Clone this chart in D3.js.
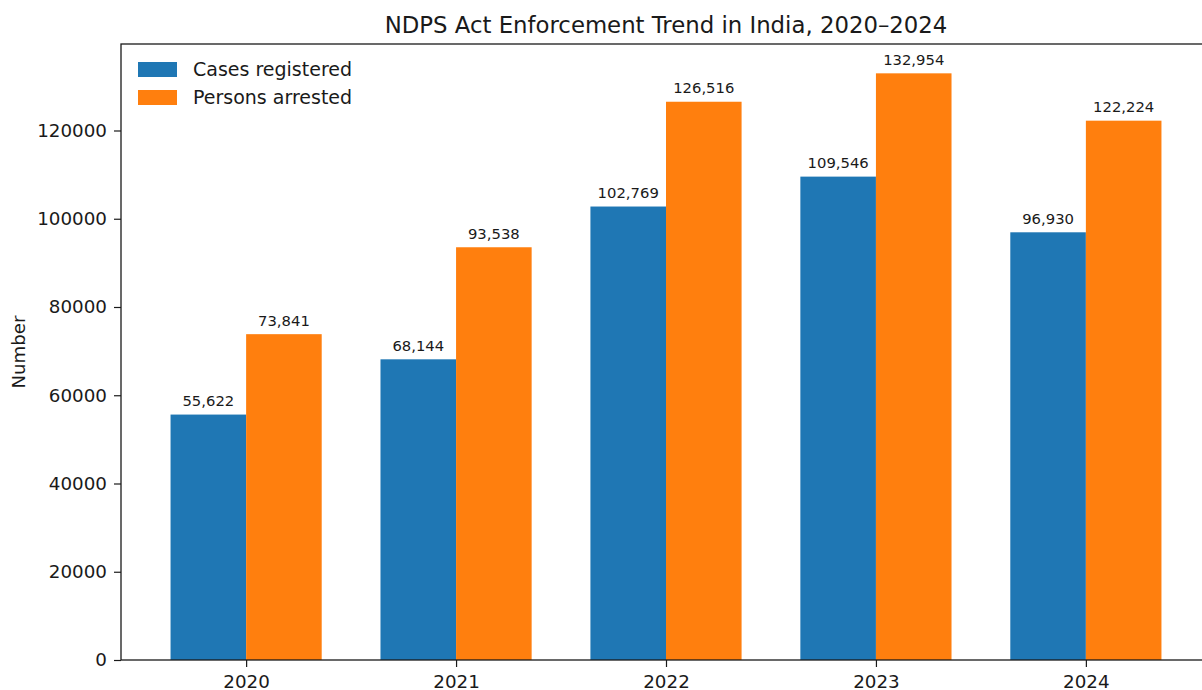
<!DOCTYPE html>
<html>
<head>
<meta charset="utf-8">
<script src="https://cdn.jsdelivr.net/npm/d3@7"></script>
<style>
    body { margin: 0; background: #fff; }
    svg { font-family: "DejaVu Sans", sans-serif; display: block; }
</style>
</head>
<body>
<svg id="chart" width="1202" height="690"></svg>
<script>
const years = ['2020', '2021', '2022', '2023', '2024'];
const casesRegistered = [55622, 68144, 102769, 109546, 96930];
const personsArrested = [73841, 93538, 126516, 132954, 122224];
const yTicks = [0, 20000, 40000, 60000, 80000, 100000, 120000];
const seriesNames = ['Cases registered', 'Persons arrested'];
const COLORS = ['#1f77b4', '#ff7f0e'];

const svg = d3.select('#chart');
const plotLeft = 121, plotRight = 1211, plotTop = 44, plotBottom = 660;
const barW = 0.36;

// matplotlib-like autoscale with 5% margins
const xMin = -barW, xMax = years.length - 1 + barW;
const xPad = (xMax - xMin) * 0.05;
const x = d3.scaleLinear().domain([xMin - xPad, xMax + xPad]).range([plotLeft, plotRight]);
const yMax = d3.max(personsArrested) * 1.05;
const y = d3.scaleLinear().domain([0, yMax]).range([plotBottom, plotTop]);

const fmt = d3.format(',');
const series = [casesRegistered, personsArrested];

series.forEach((vals, s) => {
    const off = s === 0 ? -barW : 0;
    const g = svg.append('g');
    g.selectAll('rect')
        .data(vals)
        .enter()
        .append('rect')
        .attr('x', (d, i) => x(i + off))
        .attr('y', d => y(d))
        .attr('width', x(barW) - x(0))
        .attr('height', d => y(0) - y(d))
        .attr('fill', COLORS[s]);
    g.selectAll('text')
        .data(vals)
        .enter()
        .append('text')
        .attr('x', (d, i) => x(i + off + barW / 2))
        .attr('y', d => y(d) - 8.5)
        .attr('text-anchor', 'middle')
        .style('font-size', '14.8px')
        .attr('fill', '#1a1a1a')
        .text(d => fmt(d));
});

// axes
const xAxis = d3.axisBottom(x)
    .tickValues(years.map((d, i) => i))
    .tickFormat(i => years[i])
    .tickSize(7)
    .tickPadding(4);
const yAxis = d3.axisLeft(y)
    .tickValues(yTicks)
    .tickFormat(d => d)
    .tickSize(7)
    .tickPadding(7);

const gx = svg.append('g').attr('transform', `translate(0,${plotBottom})`).call(xAxis);
const gy = svg.append('g').attr('transform', `translate(${plotLeft},0)`).call(yAxis);
[gx, gy].forEach(g => {
    g.select('.domain').remove();
    g.selectAll('.tick line').attr('stroke', '#1a1a1a').attr('stroke-width', 1.2);
    g.selectAll('.tick text').style('font-size', '18.3px').attr('fill', '#1a1a1a')
        .style('font-family', '"DejaVu Sans", sans-serif');
});
gx.selectAll('.tick text').attr('dy', '0.92em');

// spines
svg.append('rect')
    .attr('x', plotLeft).attr('y', plotTop)
    .attr('width', plotRight - plotLeft).attr('height', plotBottom - plotTop)
    .attr('fill', 'none').attr('stroke', '#1a1a1a').attr('stroke-width', 1.3);

// title and y label
svg.append('text')
    .attr('x', (plotLeft + plotRight) / 2).attr('y', 33)
    .attr('text-anchor', 'middle')
    .style('font-size', '22.8px')
    .attr('fill', '#1a1a1a')
    .text('NDPS Act Enforcement Trend in India, 2020\u20132024');

svg.append('text')
    .attr('transform', `translate(25,${(plotTop + plotBottom) / 2}) rotate(-90)`)
    .attr('text-anchor', 'middle')
    .style('font-size', '18.2px')
    .attr('fill', '#1a1a1a')
    .text('Number');

// legend
const legend = svg.append('g').attr('id', 'legend');
seriesNames.forEach((name, i) => {
    legend.append('rect')
        .attr('x', 138).attr('y', 62 + i * 28)
        .attr('width', 39).attr('height', 15)
        .attr('fill', COLORS[i]);
    legend.append('text')
        .attr('x', 193).attr('y', 76 + i * 28)
        .style('font-size', '19px')
        .attr('fill', '#1a1a1a')
        .text(name);
});
</script>
</body>
</html>
